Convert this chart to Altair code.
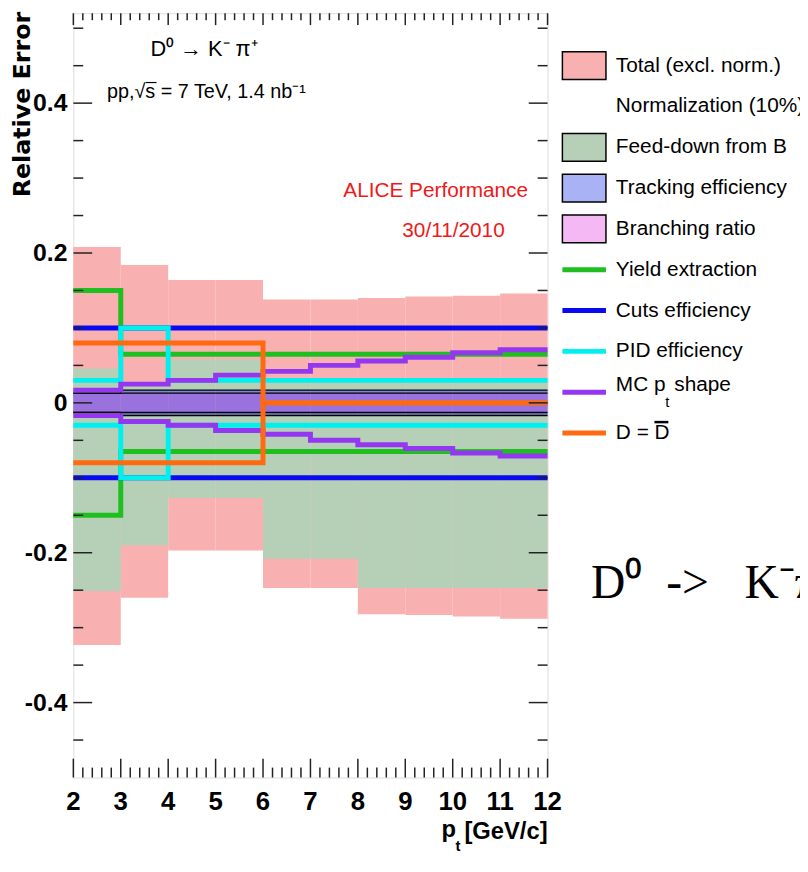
import altair as alt
import pandas as pd

# ---------------- data ----------------
pt_edges = [2, 3, 4, 5, 6, 7, 8, 9, 10, 11, 12]

total_up = [0.208, 0.184, 0.164, 0.164, 0.138, 0.138, 0.140, 0.142, 0.143, 0.146]
total_dn = [-0.323, -0.260, -0.197, -0.197, -0.247, -0.247, -0.282, -0.283, -0.285, -0.288]
feed_up = [0.046, 0.025, 0.058, 0.058, 0.030, 0.030, 0.030, 0.030, 0.030, 0.030]
feed_dn = [-0.251, -0.190, -0.127, -0.127, -0.208, -0.208, -0.247, -0.247, -0.247, -0.247]
tracking = [0.013, 0.017, 0.017, 0.017, 0.017, 0.017, 0.017, 0.017, 0.017, 0.017]
branching = [0.013, 0.013, 0.013, 0.013, 0.013, 0.013, 0.013, 0.013, 0.013, 0.013]
yield_ex = [0.150, 0.065, 0.065, 0.065, 0.065, 0.065, 0.065, 0.065, 0.065, 0.065]
cuts_eff = [0.100, 0.100, 0.100, 0.100, 0.100, 0.100, 0.100, 0.100, 0.100, 0.100]
pid_eff = [0.030, 0.100, 0.030, 0.030, 0.030, 0.030, 0.030, 0.030, 0.030, 0.030]
mc_shape = [0.017, 0.025, 0.030, 0.037, 0.042, 0.050, 0.056, 0.061, 0.067, 0.071]
d_dbar = [0.080, 0.080, 0.080, 0.080, 0.000, 0.000, 0.000, 0.000, 0.000, 0.000]

x_major = [2, 3, 4, 5, 6, 7, 8, 9, 10, 11, 12]
x_minor = [round(2 + 0.2 * i, 1) for i in range(51) if i % 5 != 0]
y_major = [-0.4, -0.2, 0.0, 0.2, 0.4]
y_major_labels = ["-0.4", "-0.2", "0", "0.2", "0.4"]
y_minor = [v for v in [round(-0.45 + 0.05 * i, 2) for i in range(20)] if v not in y_major]

legend_labels = ["Total (excl. norm.)", "Normalization (10%)", "Feed-down from B",
                 "Tracking efficiency", "Branching ratio", "Yield extraction",
                 "Cuts efficiency", "PID efficiency", "MC p", "D = D"]

title_decay = "D\u2070 \u2192 K\u207b \u03c0\u207a"
title_coll = "pp,\u221as = 7 TeV, 1.4 nb\u207b\u00b9"
alice_1 = "ALICE Performance"
alice_2 = "30/11/2010"
side_note = "D\u2070 \u00a0-> \u00a0\u00a0K\u207b\u03c0\u207b"

# ---------------- styles ----------------
W, H = 479, 772
FN = "'Liberation Sans', Arial, Helvetica, sans-serif"
C_TOTAL = "#f8b0b0"
C_FEED = "#b6d0b8"
C_TRK = "#7c88dc"
C_BR = "#e040e0"
C_YIELD = "#1fbf1f"
C_CUTS = "#0a0af0"
C_PID = "#00f0f0"
C_MC = "#9437f0"
C_DD = "#ff6a10"

xsc = alt.Scale(domain=[2, 12], nice=False, zero=False)
ysc = alt.Scale(domain=[-0.5, 0.52], nice=False, zero=False)

bins = pd.DataFrame({
    "lo": pt_edges[:-1], "hi": pt_edges[1:],
    "total_up": total_up, "total_dn": total_dn,
    "feed_up": feed_up, "feed_dn": feed_dn,
    "trk_up": tracking, "trk_dn": [-v for v in tracking],
    "br_up": branching, "br_dn": [-v for v in branching],
})

def steps(name, vals):
    rows = []
    ext = list(vals) + [vals[-1]]
    for sign, side in ((1, "up"), (-1, "dn")):
        for x, v in zip(pt_edges, ext):
            rows.append({"sys": name, "side": side, "pt": x, "err": sign * v})
    return rows

line_rows = []
for nm, vals in (("yield", yield_ex), ("cuts", cuts_eff), ("pid", pid_eff),
                 ("mc", mc_shape), ("dd", d_dbar), ("trk", tracking), ("br", branching)):
    line_rows += steps(nm, vals)
lines_df = pd.DataFrame(line_rows)

yaxis = alt.Axis(title="Relative Error", titleFont="DejaVu Sans", titleFontSize=24,
                 titleFontWeight="bold", titleColor="black", titleAngle=270, titleAlign="right",
                 titleBaseline="alphabetic", titleX=-44, titleY=-2,
                 labels=False, ticks=False, domain=False, grid=False)

def band(lo_field, hi_field, color, first=False, opacity=1.0):
    return alt.Chart(bins).mark_rect(fill=color, opacity=opacity).encode(
        x=alt.X("lo:Q", scale=xsc, axis=None),
        x2="hi:Q",
        y=alt.Y(f"{lo_field}:Q", scale=ysc, axis=yaxis if first else None),
        y2=f"{hi_field}:Q",
    )

def step_line(name, color, width=5.0):
    return alt.Chart(lines_df).transform_filter(alt.datum.sys == name).mark_line(
        interpolate="step-after", color=color, strokeWidth=width).encode(
        x=alt.X("pt:Q", scale=xsc, axis=None),
        y=alt.Y("err:Q", scale=ysc, axis=None),
        detail="side:N",
    )

layers = [
    band("total_dn", "total_up", C_TOTAL, first=True),
    band("feed_dn", "feed_up", C_FEED),
    band("trk_dn", "trk_up", C_TRK),
    band("br_dn", "br_up", C_BR, opacity=0.3),
    step_line("trk", "black", 1.5),
    step_line("br", "black", 1.5),
    step_line("yield", C_YIELD),
    step_line("cuts", C_CUTS),
    step_line("pid", C_PID),
    step_line("mc", C_MC),
    step_line("dd", C_DD),
]

# ---- inward ticks on all four sides ----
TK = "#222222"
def xticks(vals, length, top):
    y0, y1 = (0, length) if top else (H, H - length)
    return alt.Chart(pd.DataFrame({"v": vals})).mark_rule(color=TK, strokeWidth=1.5).encode(
        x=alt.X("v:Q", scale=xsc, axis=None), y=alt.value(y0), y2=alt.value(y1))

def yticks(vals, length, right):
    x0, x1 = (W, W - length) if right else (0, length)
    return alt.Chart(pd.DataFrame({"v": vals})).mark_rule(color=TK, strokeWidth=1.5).encode(
        y=alt.Y("v:Q", scale=ysc, axis=None), x=alt.value(x0), x2=alt.value(x1))

layers += [xticks(x_major, 19, False), xticks(x_minor, 10, False),
           xticks(x_major, 12, True), xticks(x_minor, 7, True),
           yticks(y_major, 19, False), yticks(y_minor, 10, False),
           yticks(y_major, 19, True), yticks(y_minor, 10, True)]

# ---- tick labels through the scales ----
layers += [
    alt.Chart(pd.DataFrame({"v": x_major})).mark_text(
        baseline="top", fontSize=26, fontWeight="bold", font=FN, color="black").encode(
        x=alt.X("v:Q", scale=xsc, axis=None), y=alt.value(H + 12), text="v:Q"),
    alt.Chart(pd.DataFrame({"v": y_major, "lab": y_major_labels})).mark_text(
        align="right", baseline="middle", fontSize=25, fontWeight="bold", font=FN, color="black").encode(
        y=alt.Y("v:Q", scale=ysc, axis=None), x=alt.value(-6), text="lab:N"),
]

# ---- annotations ----
def label(text, x, y, size, color="black", align="center", font=FN, weight="normal", baseline="middle"):
    return alt.Chart(pd.DataFrame({"t": [text]})).mark_text(
        align=align, baseline=baseline, fontSize=size, font=font, color=color,
        fontWeight=weight).encode(text="t:N", x=alt.value(x), y=alt.value(y))

def hbar(x0, x1, y, width=1.5):
    return alt.Chart(pd.DataFrame({"t": [0]})).mark_rule(color="black", strokeWidth=width).encode(
        x=alt.value(x0), x2=alt.value(x1), y=alt.value(y))

layers += [
    label(title_decay, 132, 36, 22),
    label(title_coll, 34, 80, 20, align="left"),
    hbar(73, 84, 70, 1.2),
    label(alice_1, 366, 180, 21, color="#f01818"),
    label(alice_2, 384, 220, 21, color="#f01818"),
    label(side_note, 523, 591, 48, font="'Liberation Serif', 'Times New Roman', serif",
          align="left", baseline="alphabetic"),
    # x-axis title  p_t [GeV/c]
    label("p", 372, 832, 24, weight="bold", align="left", baseline="alphabetic"),
    label("t", 386, 846, 15, weight="bold", align="left", baseline="alphabetic"),
    label("[GeV/c]", W, 834, 24, weight="bold", align="right", baseline="alphabetic"),
]

# ---- legend (drawn to the right of the frame) ----
leg_scale = alt.Scale(domain=[0, 9], range=[53, 424])
leg = pd.DataFrame({"row": list(range(len(legend_labels))), "label": legend_labels})
box_rows = [0, 2, 3, 4]
box_cols = [C_TOTAL, C_FEED, "#a8b2f4", "#f4b8f4"]
line_rows_leg = [5, 6, 7, 8, 9]
line_cols = [C_YIELD, C_CUTS, C_PID, C_MC, C_DD]
plain_rows = [0, 1, 2, 3, 4, 5, 6, 7, 9]

box_path = "M-1,-0.636L1,-0.636L1,0.636L-1,0.636Z"
layers += [
    alt.Chart(leg).transform_filter(alt.FieldOneOfPredicate(field="row", oneOf=box_rows)).mark_point(
        shape=box_path, size=1936, filled=True, opacity=1, stroke="black", strokeWidth=1.5).encode(
        x=alt.value(516),
        y=alt.Y("row:Q", scale=leg_scale, axis=None),
        fill=alt.Fill("row:O", scale=alt.Scale(domain=box_rows, range=box_cols), legend=None)),
    alt.Chart(leg).transform_filter(alt.FieldOneOfPredicate(field="row", oneOf=line_rows_leg)).mark_rule(
        strokeWidth=5).encode(
        x=alt.value(494), x2=alt.value(538),
        y=alt.Y("row:Q", scale=leg_scale, axis=None),
        color=alt.Color("row:O", scale=alt.Scale(domain=line_rows_leg, range=line_cols), legend=None)),
    alt.Chart(leg).transform_filter(alt.FieldOneOfPredicate(field="row", oneOf=plain_rows)).mark_text(
        align="left", baseline="middle", fontSize=21, font=FN, color="black").encode(
        x=alt.value(548),
        y=alt.Y("row:Q", scale=leg_scale, axis=None),
        text="label:N"),
    label(legend_labels[8], 548, 376, 21, align="left"),
    label("t", 598, 393, 15, align="left"),
    label("shape", 607, 376, 21, align="left"),
    hbar(587, 601, 413, 2.5),
]

chart = alt.layer(*layers).resolve_scale(y="independent").properties(
    width=W, height=H,
    padding={"left": 66, "top": 1, "right": 255, "bottom": 75},
    autosize=alt.AutoSizeParams(type="none"),
).configure_view(stroke="#222222", strokeWidth=2).configure(background="white")

chart.save("out.html", embed_options={"renderer": "svg", "actions": False})
